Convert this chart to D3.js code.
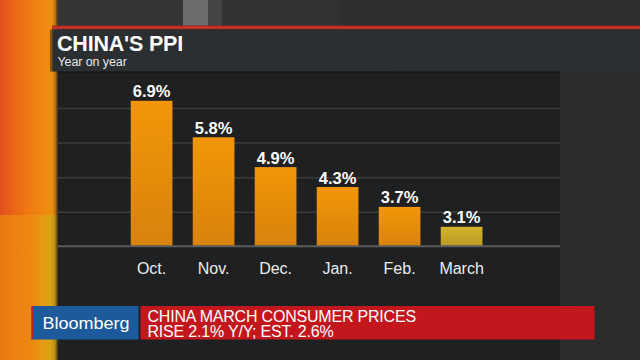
<!DOCTYPE html>
<html>
<head>
<meta charset="utf-8">
<script src="https://cdn.jsdelivr.net/npm/d3@7"></script>
<style>
  html, body { margin: 0; padding: 0; background: #2a2b2c; }
  svg { display: block; }
  text { font-family: "Liberation Sans", Arial, Helvetica, sans-serif; }
</style>
</head>
<body>
<svg id="chart" width="640" height="360"></svg>
<script>
// ---- data ----
const categories = ["Oct.", "Nov.", "Dec.", "Jan.", "Feb.", "March"];
const values = [6.9, 5.8, 4.9, 4.3, 3.7, 3.1];
const highlight = ["March"];
const gridValues = [3.54, 4.58, 5.63, 6.67];
const title = "CHINA'S PPI";
const subtitle = "Year on year";
const brand = "Bloomberg";
const headline = ["CHINA MARCH CONSUMER PRICES", "RISE 2.1% Y/Y; EST. 2.6%"];

const svg = d3.select("#chart");
const defs = svg.append("defs");

function grad(id, stops, x2, y2) {
  const g = defs.append("linearGradient").attr("id", id)
    .attr("x1", 0).attr("y1", 0).attr("x2", x2).attr("y2", y2);
  stops.forEach(s => g.append("stop").attr("offset", s[0]).attr("stop-color", s[1]));
}
grad("stripeTop", [[0, "#e2501c"], [0.2, "#ea6217"], [0.5, "#f07a12"], [0.8, "#f08a10"], [0.9, "#e8900f"], [0.95, "#c07412"], [1, "#3a2a1a"]], 1, 0);
grad("stripeBot", [[0, "#ea7a12"], [0.55, "#ee8810"], [0.72, "#e69a12"], [0.88, "#d6a214"], [0.95, "#b88a12"], [1, "#3a2e14"]], 1, 0);
grad("barOrange", [[0, "#f29608"], [1, "#d9820c"]], 0, 1);
grad("barYellow", [[0, "#d4b42c"], [1, "#b89a26"]], 0, 1);
grad("rightBg", [[0, "#262626"], [1, "#2c2c2c"]], 1, 0);
grad("redLine", [[0, "#9a2622"], [0.5, "#d0362a"], [1, "#9a2622"]], 0, 1);

// ---- background pieces ----
svg.append("rect").attr("x", 0).attr("y", 0).attr("width", 640).attr("height", 360).attr("fill", "url(#rightBg)");
// top strip with vertical bands
const topBands = [[58, 125, "#343636"], [183, 25, "#6b6d6b"], [208, 14, "#444646"], [222, 118, "#323434"], [340, 300, "#2e3030"]];
topBands.forEach(b => svg.append("rect").attr("x", b[0]).attr("y", 0).attr("width", b[1]).attr("height", 28).attr("fill", b[2]));
// left orange stripe
svg.append("rect").attr("x", 0).attr("y", 0).attr("width", 58).attr("height", 215).attr("fill", "url(#stripeTop)");
svg.append("rect").attr("x", 0).attr("y", 215).attr("width", 58).attr("height", 145).attr("fill", "url(#stripeBot)");

// red line + header panel
svg.append("rect").attr("x", 52).attr("y", 25.5).attr("width", 588).attr("height", 4).attr("fill", "url(#redLine)");
svg.append("rect").attr("x", 50).attr("y", 29.5).attr("width", 4).attr("height", 42).attr("fill", "#1a1a1a").attr("opacity", 0.5);
svg.append("rect").attr("x", 52.5).attr("y", 29.5).attr("width", 588).attr("height", 42).attr("fill", "#2c2f31");

// plot panel
const panel = { x0: 58, x1: 560, y0: 71.5, y1: 360 };
svg.append("rect").attr("x", panel.x0).attr("y", panel.y0).attr("width", panel.x1 - panel.x0)
  .attr("height", panel.y1 - panel.y0).attr("fill", "#1f2022");
svg.append("rect").attr("x", panel.x0).attr("y", panel.y0).attr("width", panel.x1 - panel.x0)
  .attr("height", 2).attr("fill", "#18191a");

// titles
svg.append("text").attr("x", 57).attr("y", 50.5).attr("fill", "#ffffff")
  .attr("font-size", 21.5).attr("font-weight", "bold").attr("letter-spacing", -0.2).text(title);
svg.append("text").attr("x", 57.5).attr("y", 66).attr("fill", "#e6e6e6")
  .attr("font-size", 12.5).attr("letter-spacing", -0.1).text(subtitle);

// ---- scales ----
const x = d3.scaleBand().domain(categories).range([120.6, 492.6]).paddingInner(0.327).paddingOuter(0.1635);
const y = d3.scaleLinear().domain([2.5, 7.5]).range([246.7, 80.9]);

// gridlines
svg.append("g").selectAll("line").data(gridValues).join("line")
  .attr("x1", panel.x0).attr("x2", panel.x1)
  .attr("y1", d => y(d)).attr("y2", d => y(d))
  .attr("stroke", "#3a3b3d").attr("stroke-width", 1.5);

// bars
const data = categories.map((c, i) => ({ c, v: values[i] }));
svg.append("g").selectAll("rect").data(data).join("rect")
  .attr("x", d => x(d.c)).attr("width", x.bandwidth())
  .attr("y", d => y(d.v)).attr("height", d => y(2.5) - y(d.v))
  .attr("fill", d => highlight.includes(d.c) ? "url(#barYellow)" : "url(#barOrange)");

// baseline
svg.append("line").attr("x1", panel.x0).attr("x2", panel.x1)
  .attr("y1", y(2.5) - 0.5).attr("y2", y(2.5) - 0.5)
  .attr("stroke", "#5b5c5d").attr("stroke-width", 2);

// value labels
svg.append("g").selectAll("text").data(data).join("text")
  .attr("x", d => x(d.c) + x.bandwidth() / 2).attr("y", d => y(d.v) - 3.5)
  .attr("text-anchor", "middle").attr("fill", "#ffffff")
  .attr("font-size", 16.5).attr("font-weight", "bold")
  .text(d => d.v.toFixed(1) + "%");

// x axis labels
const xAxis = d3.axisBottom(x).tickSize(0).tickPadding(0);
const gx = svg.append("g").attr("transform", "translate(0,262)").call(xAxis);
gx.select(".domain").remove();
gx.selectAll("text").attr("fill", "#ececec").attr("font-size", 16)
  .attr("font-family", "'Liberation Sans', Arial, sans-serif").attr("dy", "0.75em");

// ---- ticker bar ----
svg.append("rect").attr("x", 31.5).attr("y", 306).attr("width", 107).attr("height", 33.5).attr("fill", "#1c5a9b");
svg.append("rect").attr("x", 31.5).attr("y", 306).attr("width", 1.5).attr("height", 33.5).attr("fill", "#b7262a");
svg.append("rect").attr("x", 140.5).attr("y", 306).attr("width", 454).attr("height", 33.5).attr("fill", "#c4171d");
svg.append("text").attr("x", 42.5).attr("y", 328.5).attr("fill", "#ffffff")
  .attr("font-size", 17).attr("textLength", 87).attr("lengthAdjust", "spacingAndGlyphs").text(brand);
svg.append("g").selectAll("text").data(headline).join("text")
  .attr("x", 147.5).attr("y", (d, i) => 321.7 + i * 15.6)
  .attr("fill", "#ffffff").attr("font-size", 16).attr("letter-spacing", -0.2)
  .text(d => d);
</script>
</body>
</html>
